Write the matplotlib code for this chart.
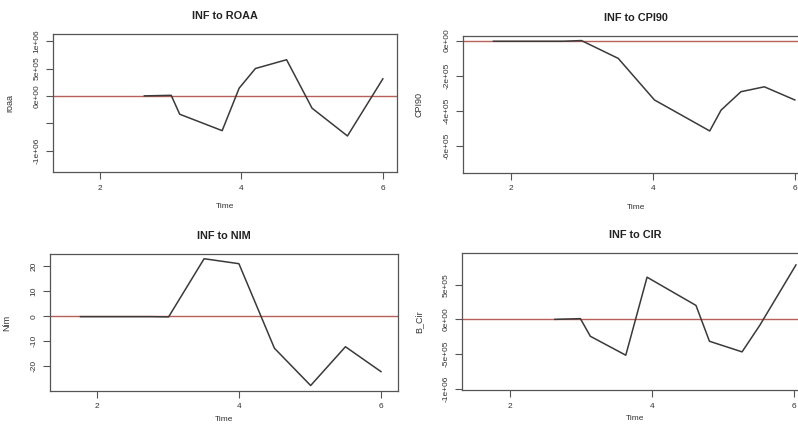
import matplotlib
matplotlib.use("Agg")
import matplotlib.pyplot as plt

plt.rcParams['font.family'] = ['Liberation Sans', 'DejaVu Sans']

# impulse responses
roaa_t = [2.63, 3.01, 3.13, 3.73, 3.97, 4.20, 4.64, 5.00, 5.50, 6.00]
roaa_v = [0, 10000, -335000, -635000, 141000, 500000, 660000, -225000, -732000, 311000]

cpi_t = [1.75, 2.73, 2.99, 3.51, 4.02, 4.80, 4.96, 5.24, 5.57, 6.00]
cpi_v = [-4000, -4000, 0, -102000, -339000, -516000, -397000, -292000, -264000, -339000]

nim_t = [1.77, 2.77, 3.01, 3.51, 4.00, 4.50, 5.01, 5.50, 6.00]
nim_v = [-0.2, -0.2, -0.3, 23.1, 21.1, -12.9, -27.9, -12.3, -22.3]

cir_t = [2.63, 2.99, 3.13, 3.63, 3.93, 4.62, 4.81, 5.27, 5.52, 6.03]
cir_v = [0, 10000, -244000, -517000, 608000, 201000, -316000, -469000, -86000, 785000]

titles = ["INF to ROAA", "INF to CPI90", "INF to NIM", "INF to CIR"]
ylabels = ["roaa", "CPI90", "Nim", "B_Cir"]
yticks = [[-1e6, -5e5, 0, 5e5, 1e6], [-6e5, -4e5, -2e5, 0],
          [-20, -10, 0, 10, 20], [-1e6, -5e5, 0, 5e5]]
yticklabels = [["-1e+06", "", "0e+00", "5e+05", "1e+06"],
               ["-6e+05", "-4e+05", "-2e+05", "0e+00"],
               ["-20", "-10", "0", "10", "20"],
               ["-1e+06", "-5e+05", "0e+00", "5e+05"]]
xticks = [2, 4, 6]

W, H = 798, 424
# axes boxes in pixels: left, right, top, bottom
boxes = [(53, 397, 34, 172), (463, 809, 36, 173),
         (50, 398, 254, 391), (462, 808, 253, 390)]
xlims = [(1.34, 6.2), (1.32, 6.2), (1.34, 6.24), (1.32, 6.2)]
ylims = [(-1.39e6, 1.13e6), (-756000, 26000), (-30.1, 25.0), (-1.019e6, 957000)]
series = [(roaa_t, roaa_v), (cpi_t, cpi_v), (nim_t, nim_v), (cir_t, cir_v)]
time_gap = [31, 31, 25, 25]   # px from axis bottom to "Time"

fig = plt.figure(figsize=(W / 100, H / 100), dpi=100)
fig.patch.set_facecolor("white")

txt = "#333333"
for i in range(4):
    l, r, t, b = boxes[i]
    ax = fig.add_axes([l / W, 1 - b / H, (r - l) / W, (b - t) / H])
    ax.axhline(0, color="#b8605a", lw=1.0, zorder=1)
    x, y = series[i]
    ax.plot(x, y, color="#3a3a3a", lw=1.1, zorder=2)
    ax.set_xlim(*xlims[i])
    ax.set_ylim(*ylims[i])
    ax.set_xticks(xticks)
    ax.set_xticklabels([str(v) for v in xticks])
    ax.set_yticks(yticks[i])
    ax.set_yticklabels(yticklabels[i], rotation=90, va="center")
    ax.tick_params(labelsize=6, colors="#555555", labelcolor=txt,
                   length=5, width=0.8, pad=4)
    for s in ax.spines.values():
        s.set_color("#555555")
        s.set_linewidth(0.9)
    ax.set_title(titles[i], fontsize=7.8, fontweight="bold", color="#222222", pad=11)
    ax.set_xlabel("Time", fontsize=6, color=txt)
    ax.xaxis.set_label_coords(0.5, -time_gap[i] / (b - t))
    ax.set_ylabel(ylabels[i], fontsize=6.5, color=txt)
    ax.yaxis.set_label_coords(-39 / (r - l), 0.5)

fig.savefig("out.png", dpi=100)
